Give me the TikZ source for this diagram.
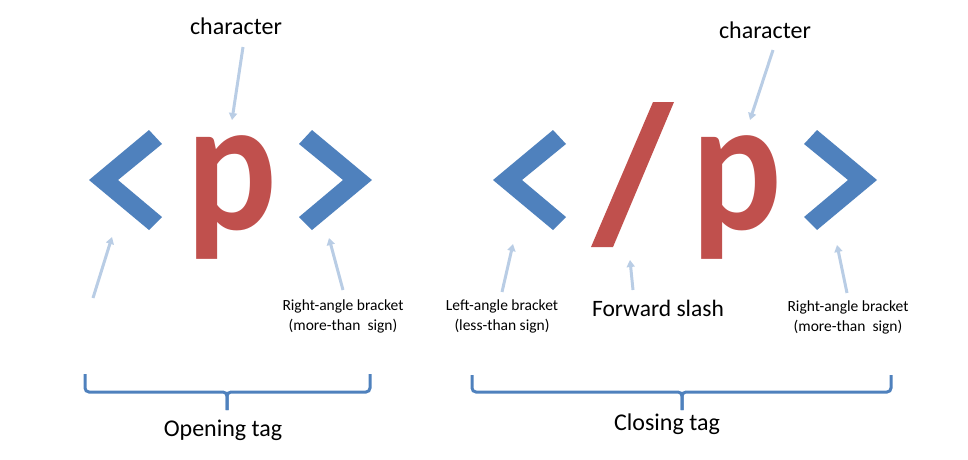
\documentclass[tikz,border=0pt]{standalone}
\usepackage{fontspec}
\setmainfont{Carlito}
\usetikzlibrary{arrows.meta}
\definecolor{tagblue}{HTML}{4F81BD}
\definecolor{tagred}{HTML}{C0504D}
\definecolor{arrowblue}{HTML}{B9CDE5}
\tikzset{
  glyph/.style={fill=tagblue, draw=none},
  bigp/.style={inner sep=0pt, anchor=base, text=tagred, font=\fontsize{190}{190}\selectfont\bfseries},
  pointer/.style={draw=arrowblue, line width=3pt, -{Triangle[length=7pt,width=8pt]}},
  bracebar/.style={draw=tagblue, line width=3pt, rounded corners=4pt},
  lbl/.style={inner sep=0pt, align=center, font=\fontsize{24}{28}\selectfont},
  small/.style={inner sep=0pt, align=center, font=\fontsize{15.5}{20}\selectfont},
}
\begin{document}
\begin{tikzpicture}[x=1pt,y=-1pt]
\useasboundingbox (0,0) rectangle (968,459);
% opening tag shapes
\fill[glyph] (89,180) -- (149,130) -- (162,144) -- (118,180) -- (162,217) -- (149,230) -- cycle;
\fill[glyph] (372,180) -- (312,130) -- (299,144) -- (343,180) -- (299,217) -- (312,230) -- cycle;
\node[bigp] (p1) at (232,229) {\scalebox{0.89}[1]{p}};
% closing tag shapes
\fill[glyph] (493,180) -- (553,130) -- (566,144) -- (522,180) -- (566,217) -- (553,230) -- cycle;
\fill[tagred] (653,102) -- (674,102) -- (613,247) -- (591,247) -- cycle;
\node[bigp] (p2) at (737,229) {\scalebox{0.89}[1]{p}};
\fill[glyph] (877,180) -- (817,130) -- (804,144) -- (848,180) -- (804,217) -- (817,230) -- cycle;

% labels
\node[lbl] (char1) at (236,26) {character};
\node[lbl] (char2) at (765,30) {character};
\node[small] (rab1) at (343,316) {Right-angle bracket\\(more-than\ \ sign)};
\node[small] (lab2) at (502,316) {Left-angle bracket\\(less-than sign)};
\node[lbl, font=\fontsize{23.5}{28}\selectfont] (fs) at (658,308) {Forward slash};
\node[small] (rab2) at (848,317) {Right-angle bracket\\(more-than\ \ sign)};
\node[lbl] (open) at (223,430) {Opening tag};
\node[lbl] (close) at (667,424) {Closing tag};

% arrow coordinates
\coordinate (c1t) at (243,47);   \coordinate (c1h) at (232,120);
\coordinate (l1t) at (93,298);   \coordinate (l1h) at (112,237);
\coordinate (r1t) at (343,290);  \coordinate (r1h) at (329,238);
\coordinate (c2t) at (773,50);   \coordinate (c2h) at (750,120);
\coordinate (l2t) at (502,292);  \coordinate (l2h) at (513,244);
\coordinate (s2t) at (633,290);  \coordinate (s2h) at (630,260);
\coordinate (r2t) at (847,293);  \coordinate (r2h) at (837,245);
\draw[pointer] (c1t) -- (c1h);
\draw[pointer] (l1t) -- (l1h);
\draw[pointer] (r1t) -- (r1h);
\draw[pointer] (c2t) -- (c2h);
\draw[pointer] (l2t) -- (l2h);
\draw[pointer] (s2t) -- (s2h);
\draw[pointer] (r2t) -- (r2h);

% braces
\coordinate (b1l) at (85,374); \coordinate (b1r) at (370,374); \coordinate (b1m) at (227,410);
\draw[bracebar] (b1m) -- (227,392) -- (85,392) -- (b1l);
\draw[bracebar] (b1m) -- (227,392) -- (370,392) -- (b1r);
\coordinate (b2l) at (472,375); \coordinate (b2r) at (891,375); \coordinate (b2m) at (682,410);
\draw[bracebar] (b2m) -- (682,392) -- (472,392) -- (b2l);
\draw[bracebar] (b2m) -- (682,392) -- (891,392) -- (b2r);
\end{tikzpicture}
\end{document}
